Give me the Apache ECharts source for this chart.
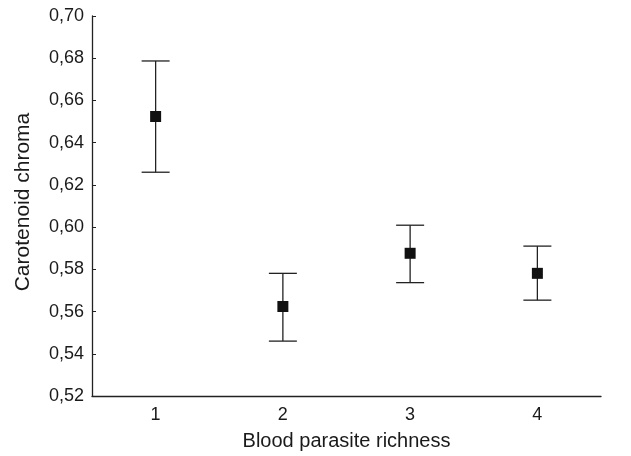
<!DOCTYPE html>
<html>
<head>
<meta charset="utf-8">
<script src="https://cdn.jsdelivr.net/npm/echarts@6/dist/echarts.min.js"></script>
<style>
  html, body { margin: 0; padding: 0; background: #fff; }
  #chart { width: 631px; height: 456px; }
</style>
</head>
<body>
<div id="chart"></div>
<script>
// categories and values
const categories = ['1', '2', '3', '4'];
const means = [0.6524, 0.5624, 0.5876, 0.5781];
const upper = [0.6787, 0.5781, 0.6009, 0.5910];
const lower = [0.6260, 0.5460, 0.5737, 0.5654];

const myChart = echarts.init(document.getElementById('chart'));

const errorData = categories.map(function (c, i) {
  return [i, lower[i], upper[i]];
});

myChart.setOption({
  backgroundColor: '#fff',
  animation: false,
  grid: { left: 92, right: 30, top: 16, bottom: 59 },
  xAxis: {
    type: 'category',
    data: categories,
    boundaryGap: true,
    name: 'Blood parasite richness',
    nameLocation: 'middle',
    nameGap: 35,
    nameTextStyle: { fontFamily: 'Liberation Sans', fontSize: 20, color: '#1a1a1a' },
    axisLine: { lineStyle: { color: '#222', width: 1.3 } },
    axisTick: { alignWithLabel: true, inside: true, length: 3, lineStyle: { color: '#222' } },
    axisLabel: { fontFamily: 'Liberation Sans', fontSize: 18, color: '#1a1a1a', margin: 10 },
    splitLine: { show: false }
  },
  yAxis: {
    type: 'value',
    min: 0.52,
    max: 0.70,
    interval: 0.02,
    name: 'Carotenoid chroma',
    nameLocation: 'middle',
    nameGap: 58,
    nameTextStyle: { fontFamily: 'Liberation Sans', fontSize: 21, color: '#1a1a1a', padding: [0, 0, 0, 8] },
    axisLine: { show: true, lineStyle: { color: '#222', width: 1.3 } },
    axisTick: { show: true, inside: true, length: 4, lineStyle: { color: '#222' } },
    axisLabel: {
      fontFamily: 'Liberation Sans',
      fontSize: 18,
      color: '#1a1a1a',
      margin: 8,
      formatter: function (v) { return v.toFixed(2).replace('.', ','); }
    },
    splitLine: { show: false }
  },
  series: [
    {
      type: 'custom',
      data: errorData,
      renderItem: function (params, api) {
        const x = api.value(0);
        const lo = api.coord([x, api.value(1)]);
        const hi = api.coord([x, api.value(2)]);
        const half = 14;
        const style = { stroke: '#222', lineWidth: 1.3 };
        return {
          type: 'group',
          children: [
            { type: 'line', shape: { x1: hi[0], y1: hi[1], x2: lo[0], y2: lo[1] }, style: style },
            { type: 'line', shape: { x1: hi[0] - half, y1: hi[1], x2: hi[0] + half, y2: hi[1] }, style: style },
            { type: 'line', shape: { x1: lo[0] - half, y1: lo[1], x2: lo[0] + half, y2: lo[1] }, style: style }
          ]
        };
      },
      z: 2
    },
    {
      type: 'scatter',
      data: means,
      symbol: 'rect',
      symbolSize: 11,
      itemStyle: { color: '#111', opacity: 1 },
      z: 3
    }
  ]
});
</script>
</body>
</html>
